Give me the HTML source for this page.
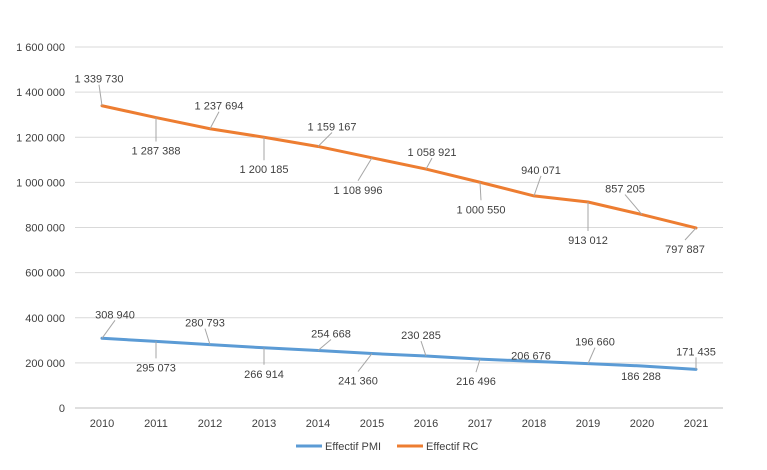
<!DOCTYPE html>
<html><head><meta charset="utf-8"><style>
body{margin:0;background:#fff;font-family:"Liberation Sans",sans-serif}
svg text{font-family:"Liberation Sans",sans-serif;font-size:11px;fill:#404040}
</style></head><body>
<svg id="c" width="767" height="465"></svg>
<script>
const years=["2010","2011","2012","2013","2014","2015","2016","2017","2018","2019","2020","2021"];
const pmi=[308940,295073,280793,266914,254668,241360,230285,216496,206676,196660,186288,171435];
const rc=[1339730,1287388,1237694,1200185,1159167,1108996,1058921,1000550,940071,913012,857205,797887];
const yTicks=[0,200000,400000,600000,800000,1000000,1200000,1400000,1600000];
// label offsets (layout)
const rcOff=[[-3,-27],[0,33],[9,-23],[0,32],[14,-20],[-14,32],[6,-17],[1,27],[7,-26],[0,38],[-17,-26],[-11,21]];
const pmiOff=[[13,-24],[0,26],[-5,-22],[0,26],[13,-17],[-14,27],[-5,-21],[-4,22],[-3,-6],[7,-22],[-1,10],[0,-18]];
const NS="http://www.w3.org/2000/svg",svg=document.getElementById('c');
const x0=75,x1=723,yB=408,yT=47,max=1600000;
const X=i=>x0+(i+0.5)*(x1-x0)/years.length;
const Y=v=>yB-(v/max)*(yB-yT);
function el(t,a,p){const e=document.createElementNS(NS,t);for(const k in a)e.setAttribute(k,a[k]);(p||svg).appendChild(e);return e;}
const fmt=v=>String(v).replace(/\B(?=(\d{3})+(?!\d))/g," ");
yTicks.forEach(v=>{
 const g=el('line',{x1:x0,x2:x1,y1:Y(v),y2:Y(v),stroke:v===0?'#bfbfbf':'#d9d9d9','stroke-width':1});
 
 
 const t=el('text',{x:65,y:Y(v)+4,'text-anchor':'end'});t.textContent=fmt(v);
 
 
});
years.forEach((y,i)=>{
 const t=el('text',{x:X(i),y:427,'text-anchor':'middle'});t.textContent=y;
 
 
});
function series(vals,off,color,name){
 const p=el('polyline',{points:vals.map((v,i)=>X(i)+','+Y(v)).join(' '),fill:'none',stroke:color,'stroke-width':3,'stroke-linejoin':'round','stroke-linecap':'round'});
 
 
 vals.forEach((v,i)=>{
  const px=X(i),py=Y(v),lx=px+off[i][0],ly=py+off[i][1];
  const d=Math.hypot(off[i][0],off[i][1]);
  if(d>14){
   const ey=ly+(off[i][1]<0?6:-9);
   const l=el('line',{x1:px,y1:py,x2:lx,y2:ey,stroke:'#a6a6a6','stroke-width':1});
   
   
  }
  const t=el('text',{x:lx,y:ly+4,'text-anchor':'middle'});t.textContent=fmt(v);
  
  
 });
}
series(pmi,pmiOff,'#5b9bd5','pmi');
series(rc,rcOff,'#ed7d31','rc');
const lg=el('g',{});


el('line',{x1:296,x2:322,y1:446,y2:446,stroke:'#5b9bd5','stroke-width':3},lg);
const t1=el('text',{x:325,y:450},lg);t1.textContent='Effectif PMI';


el('line',{x1:397,x2:423,y1:446,y2:446,stroke:'#ed7d31','stroke-width':3},lg);
const t2=el('text',{x:426,y:450},lg);t2.textContent='Effectif RC';


</script>
</body></html>
